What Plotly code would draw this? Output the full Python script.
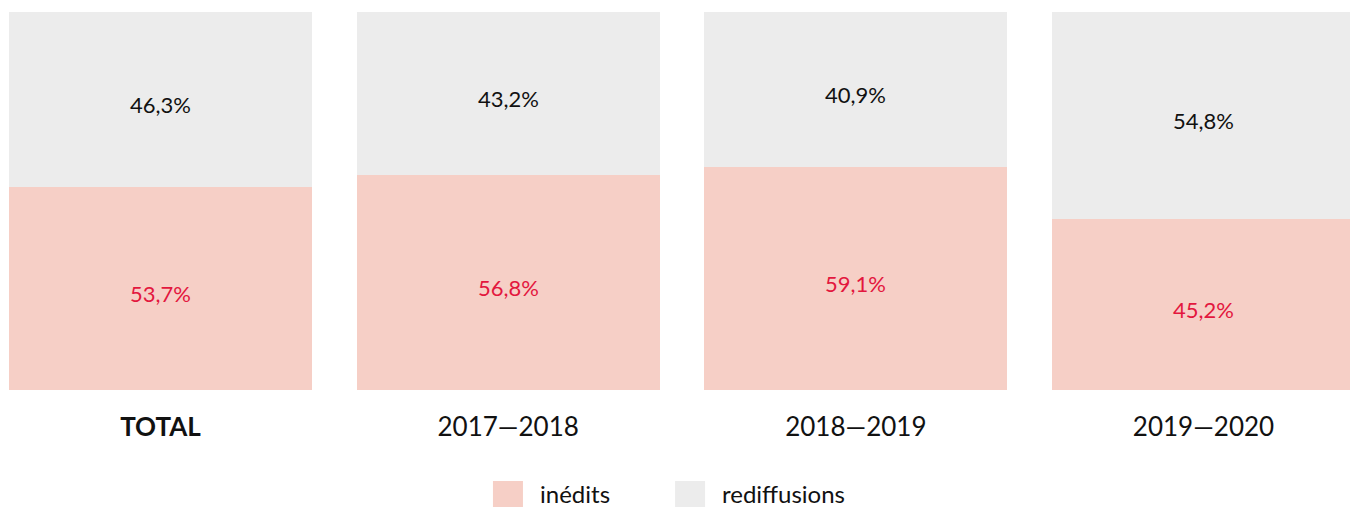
import plotly.graph_objects as go

categories = ["TOTAL", "2017—2018", "2018—2019", "2019—2020"]
tick_labels = ["<b>TOTAL</b>", "2017—2018", "2018—2019", "2019—2020"]
series_names = ["inédits", "rediffusions"]
inedits = [53.7, 56.8, 59.1, 45.2]
rediffusions = [46.3, 43.2, 40.9, 54.8]

COL_IN = "#f6cfc6"
COL_RE = "#ececec"
RED_TXT = "#e3173e"
FONT = "Lato, sans-serif"


def fmt(v):
    return f"{v:.1f}".replace(".", ",") + "%"


xpos = list(range(len(categories)))

fig = go.Figure()
fig.add_trace(go.Bar(
    x=xpos, y=inedits, name=series_names[0],
    marker=dict(color=COL_IN, line=dict(width=0)),
    width=0.8715, hoverinfo="skip", showlegend=False,
))
fig.add_trace(go.Bar(
    x=xpos, y=rediffusions, name=series_names[1],
    marker=dict(color=COL_RE, line=dict(width=0)),
    width=0.8715, hoverinfo="skip", showlegend=False,
))

# value labels, centred in each segment (slightly low, as in the reference)
for xi, a, b in zip(xpos, inedits, rediffusions):
    fig.add_annotation(x=xi, y=a / 2, xref="x", yref="y", showarrow=False,
                       text=fmt(a), yshift=-5,
                       font=dict(color=RED_TXT, size=22, family=FONT))
    fig.add_annotation(x=xi, y=a + b / 2, xref="x", yref="y", showarrow=False,
                       text=fmt(b), yshift=-5,
                       font=dict(color="#111111", size=22, family=FONT))

# custom legend (large swatches like the reference)
legend_items = [
    (series_names[0], COL_IN, 0.3571, 0.3903),
    (series_names[1], COL_RE, 0.4912, 0.5243),
]
for name, col, sx, tx in legend_items:
    fig.add_shape(type="rect", xref="paper", yref="paper",
                  x0=sx, x1=sx + 0.0221, y0=-0.3095, y1=-0.2407,
                  fillcolor=col, line=dict(width=0))
    fig.add_annotation(xref="paper", yref="paper", x=tx, y=-0.2751,
                       xanchor="left", yanchor="middle", showarrow=False,
                       text=name, font=dict(size=24, family=FONT, color="#111111"))

fig.update_layout(
    barmode="stack",
    width=1358, height=507,
    margin=dict(l=0, r=0, t=4, b=125),
    paper_bgcolor="white", plot_bgcolor="white",
    font=dict(family=FONT, color="#111111"),
    showlegend=False,
    xaxis=dict(
        range=[-0.4386, 3.4674], tickmode="array", tickvals=xpos,
        ticktext=tick_labels, showgrid=False, zeroline=False,
        showline=False, ticks="",
        tickfont=dict(size=26, family=FONT, color="#111111"),
        ticklabelstandoff=19,
    ),
    yaxis=dict(range=[0, 100], visible=False, showgrid=False, zeroline=False),
)

fig.write_html("out.html")
